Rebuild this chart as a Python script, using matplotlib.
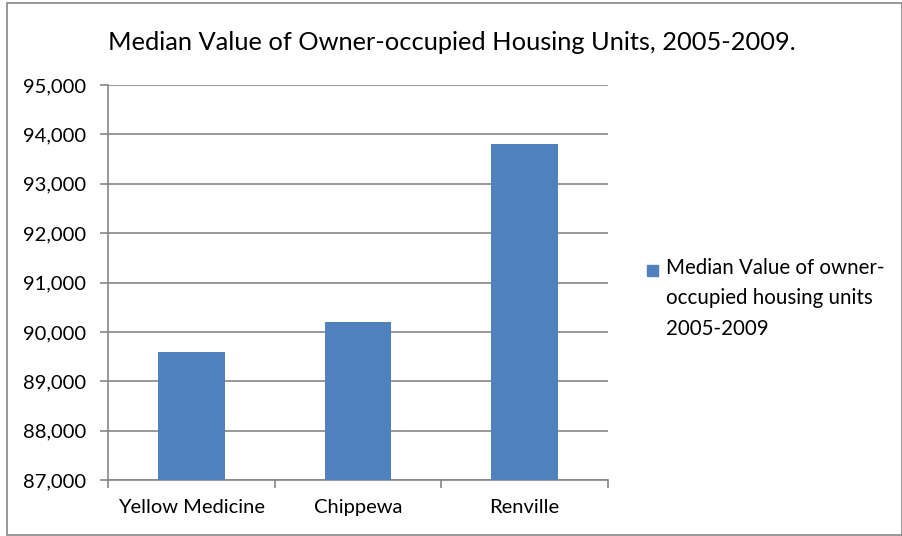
import matplotlib.pyplot as plt
import numpy as np
from matplotlib.patches import Rectangle
from matplotlib.ticker import FuncFormatter

plt.rcParams['font.family'] = ['Lato', 'DejaVu Sans']

# Data
counties = ["Yellow Medicine", "Chippewa", "Renville"]
median_values = [89600, 90200, 93800]
series_label = "Median Value of owner-\noccupied housing units\n2005-2009"
bar_color = "#4F81BD"

fig = plt.figure(figsize=(9.03, 5.36), dpi=100)
ax = fig.add_axes([108 / 903, 1 - 480 / 536, 500 / 903, 395 / 536])

x = np.arange(len(counties))
ax.bar(x, median_values, width=0.4, color=bar_color, zorder=3)

ax.set_xlim(-0.5, len(counties) - 0.5)
ax.set_ylim(87000, 95000)
ax.set_yticks(np.arange(87000, 95001, 1000))
ax.yaxis.set_major_formatter(FuncFormatter(lambda v, p: f"{int(v):,}"))
ax.set_xticks(x)
ax.set_xticklabels(counties)
ax.set_xticks(np.arange(-0.5, len(counties), 1.0), minor=True)

ax.grid(axis="y", color="#868686", linewidth=1.2, zorder=0)
for s in ["top", "right"]:
    ax.spines[s].set_visible(False)
for s in ["left", "bottom"]:
    ax.spines[s].set_color("#868686")
    ax.spines[s].set_linewidth(1.2)

ax.tick_params(axis="y", length=6, color="#868686", width=1.2,
               labelsize=14.5, pad=10)
ax.tick_params(axis="x", which="major", length=0, labelsize=14.5, pad=14)
ax.tick_params(axis="x", which="minor", length=6, color="#868686", width=1.2)

fig.text(0.5, 1 - 42 / 536, "Median Value of Owner-occupied Housing Units, 2005-2009.",
         ha="center", va="center", fontsize=18.3)

# legend: square marker next to the first line of a wrapped label
fig.patches.append(Rectangle((647 / 903, 1 - 276 / 536), 11 / 903, 11 / 536,
                             transform=fig.transFigure, color=bar_color))
fig.text(666 / 903, 1 - 258 / 536, series_label, ha="left", va="top",
         fontsize=14.8, linespacing=1.65)

fig.patches.append(Rectangle((7 / 903, 0.002), 1 - 8 / 903, 1 - 4 / 536,
                             transform=fig.transFigure, fill=False,
                             edgecolor="#868686", linewidth=1.2))

fig.savefig("out.png", dpi=100)
